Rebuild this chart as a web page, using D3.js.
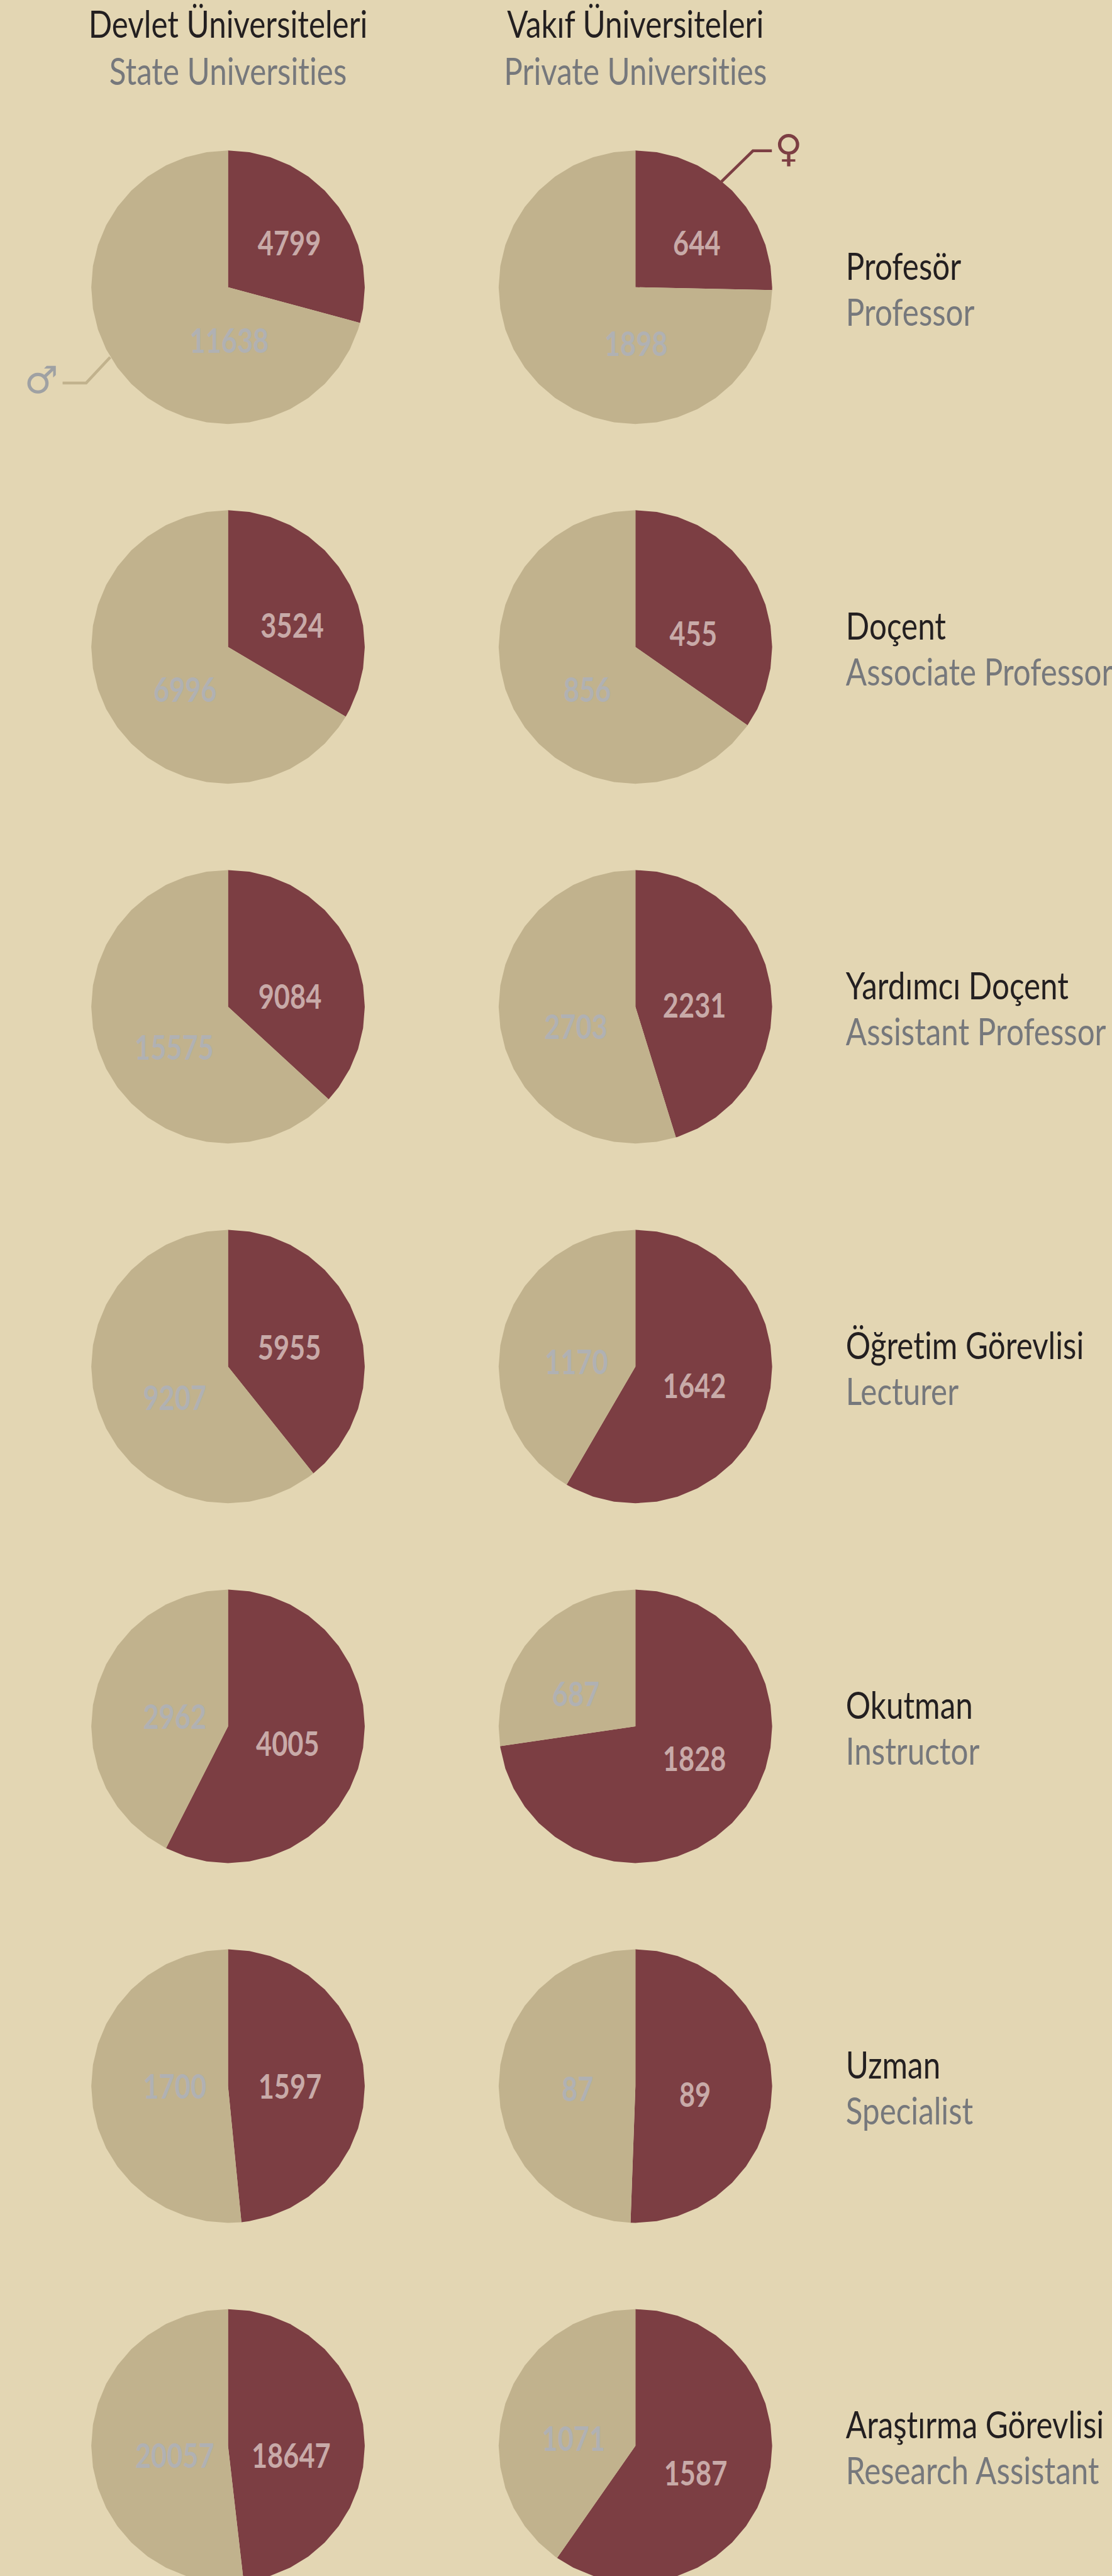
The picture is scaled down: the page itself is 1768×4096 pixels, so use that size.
<!DOCTYPE html>
<html>
<head>
<meta charset="utf-8">
<script src="https://cdn.jsdelivr.net/npm/d3@7"></script>
<style>
  html, body { margin: 0; padding: 0; background: #e3d6b3; overflow: hidden; }
  svg { display: block; }
  text { font-family: "Lato", "Noto Sans", sans-serif; font-variant-ligatures: none; }
</style>
</head>
<body>
<div id="chart"></div>
<script>
// chart data
const rolesTr = ["Profesör", "Doçent", "Yardımcı Doçent", "Öğretim Görevlisi", "Okutman", "Uzman", "Araştırma Görevlisi"];
const rolesEn = ["Professor", "Associate Professor", "Assistant Professor", "Lecturer", "Instructor", "Specialist", "Research Assistant"];
const stateFemale = [4799, 3524, 9084, 5955, 4005, 1597, 18647];
const stateMale = [11638, 6996, 15575, 9207, 2962, 1700, 20057];
const privateFemale = [644, 455, 2231, 1642, 1828, 89, 1587];
const privateMale = [1898, 856, 2703, 1170, 687, 87, 1071];
const columnsTr = ["Devlet Üniversiteleri", "Vakıf Üniversiteleri"];
const columnsEn = ["State Universities", "Private Universities"];

// label positions relative to the pie centre, per row: [female, male]
const stateLabelPos = [[[107, -76], [2, 94]], [[112, -37], [-75, 75]], [[108, -17], [-94, 72]], [[107, -32], [-93, 55]], [[104, 31], [-93, -16]], [[108, 1], [-93, 1]], [[110, 18], [-93, 18]]];
const privateLabelPos = [[[107, -76], [1, 99]], [[101, -23], [-84, 75]], [[103, -2], [-104, 36]], [[103, 34], [-103, -7]], [[103, 57], [-104, -56]], [[104, 16], [-101, 6]], [[105, 49], [-108, -12]]];

const refWidth = 1939, refHeight = 4493;
const radius = 238.5;
const colX = [397.5, 1108];
const firstRowY = 501;
const rowStep = 627.5;
const textX = 1475;

const colors = {
  bg: "#e3d6b3",
  female: "#7c3e43",
  male: "#c1b28d",
  dark: "#231f20",
  grey: "#76787c",
  labelFemale: "#c8aaa8",
  labelMale: "#b0b1b3",
  maleSymbol: "#9fa1a3"
};

// no narrow font available, so squeeze the glyphs sideways
const titleSqueeze = 0.82;
const labelSqueeze = 0.82;

// the whole drawing is in reference pixels, the viewBox does the 0.911
const svg = d3.select("#chart")
    .append("svg")
    .attr("width", 1768)
    .attr("height", 4096)
    .attr("viewBox", "0 0 " + refWidth + " " + refHeight);

svg.append("rect")
    .attr("width", refWidth)
    .attr("height", refHeight)
    .attr("fill", colors.bg);

const rowY = d3.scaleLinear().domain([0, 1]).range([firstRowY, firstRowY + rowStep]);

const pie = d3.pie().sort(null);

// original pies are faceted: a vertex every 9 degrees
const facet = Math.PI / 20;
const radialLine = d3.lineRadial()
    .angle(function(d) { return d[0]; })
    .radius(function(d) { return d[1]; });

function slicePath(d) {
    let pts = [[0, 0], [d.startAngle, radius]];
    let k = Math.floor(d.startAngle / facet + 1e-6) + 1;
    while (k * facet < d.endAngle - 1e-6) {
        pts.push([k * facet, radius]);
        k++;
    }
    pts.push([d.endAngle, radius]);
    return radialLine(pts) + "Z";
}

function squeezed(x, y, k) {
    return "translate(" + x + "," + y + ") scale(" + k + ",1)";
}

// column headers
colX.forEach(function(x, c) {
    svg.append("text")
        .attr("transform", squeezed(x, 66, titleSqueeze))
        .attr("text-anchor", "middle")
        .attr("font-size", 66)
        .attr("fill", colors.dark)
        .text(columnsTr[c]);
    svg.append("text")
        .attr("transform", squeezed(x, 148, titleSqueeze))
        .attr("text-anchor", "middle")
        .attr("font-size", 66)
        .attr("fill", colors.grey)
        .text(columnsEn[c]);
});

function drawColumn(c, female, male, labelPos) {
    rolesTr.forEach(function(role, i) {
        let g = svg.append("g")
            .attr("transform", "translate(" + colX[c] + "," + rowY(i) + ")");
        let arcs = pie([female[i], male[i]]);

        g.selectAll("path")
            .data(arcs)
            .enter().append("path")
            .attr("d", slicePath)
            .attr("fill", function(d, j) { return j === 0 ? colors.female : colors.male; });

        g.selectAll("text")
            .data(arcs)
            .enter().append("text")
            .attr("transform", function(d, j) {
                return squeezed(labelPos[i][j][0], labelPos[i][j][1] + 20.5, labelSqueeze);
            })
            .attr("text-anchor", "middle")
            .attr("font-size", 58)
            .attr("font-weight", "bold")
            .attr("fill", function(d, j) { return j === 0 ? colors.labelFemale : colors.labelMale; })
            .text(function(d) { return d.value; });
    });
}

drawColumn(0, stateFemale, stateMale, stateLabelPos);
drawColumn(1, privateFemale, privateMale, privateLabelPos);

// row captions
rolesTr.forEach(function(role, i) {
    svg.append("text")
        .attr("transform", squeezed(textX, rowY(i) - 13, titleSqueeze))
        .attr("font-size", 66)
        .attr("fill", colors.dark)
        .text(role);
    svg.append("text")
        .attr("transform", squeezed(textX, rowY(i) + 67, titleSqueeze))
        .attr("font-size", 66)
        .attr("fill", colors.grey)
        .text(rolesEn[i]);
});

// gender callouts on the first row
svg.append("path")
    .attr("d", d3.line()([[192, 623], [150, 668], [109, 668]]))
    .attr("fill", "none")
    .attr("stroke", colors.male)
    .attr("stroke-width", 5);
svg.append("text")
    .attr("x", 72).attr("y", 686)
    .attr("text-anchor", "middle")
    .attr("font-size", 66)
    .attr("fill", colors.maleSymbol)
    .style("font-family", "DejaVu Sans")
    .text("♂");

svg.append("path")
    .attr("d", d3.line()([[1258, 317], [1313, 263], [1346, 263]]))
    .attr("fill", "none")
    .attr("stroke", colors.female)
    .attr("stroke-width", 5);
svg.append("text")
    .attr("x", 1375).attr("y", 282)
    .attr("text-anchor", "middle")
    .attr("font-size", 66)
    .attr("fill", colors.female)
    .style("font-family", "DejaVu Sans")
    .text("♀");
</script>
</body>
</html>
